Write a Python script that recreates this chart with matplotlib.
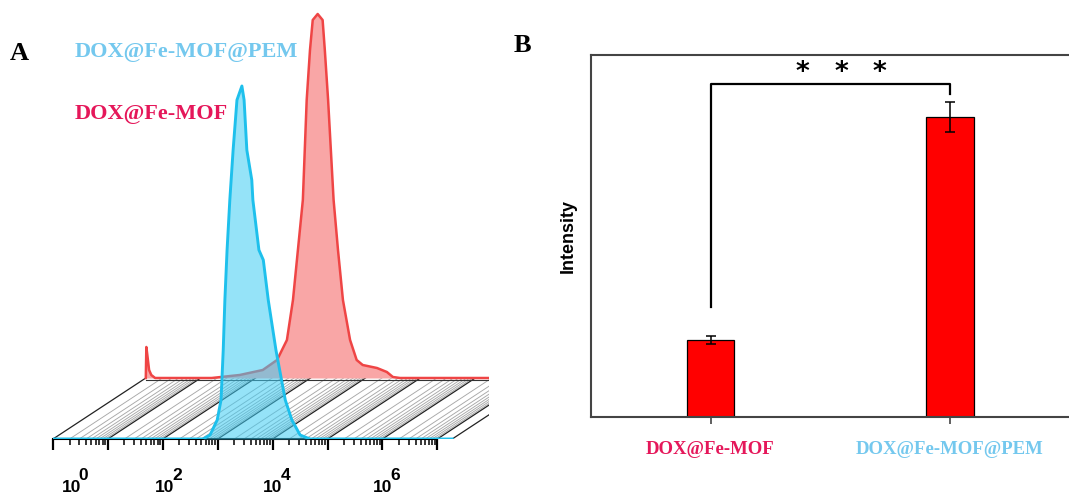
import numpy as np
from matplotlib import pyplot as plt

# ---- panel A : flow cytometry histograms (x = log10 intensity) ----
# DOX@Fe-MOF@PEM, front layer
azul_x = [0.0, 2.60, 2.73, 2.86, 2.99, 3.06, 3.10, 3.13, 3.17, 3.22, 3.28, 3.35, 3.44,
          3.48, 3.53, 3.62, 3.64, 3.75, 3.83, 3.92, 4.06, 4.23, 4.35, 4.50, 4.68, 7.27]
azul_y = [0, 0, 0, 4, 19, 39, 89, 139, 189, 239, 289, 339, 353,
          339, 289, 259, 239, 189, 179, 139, 89, 39, 19, 4, 0, 0]

# DOX@Fe-MOF, back layer (own axis, drawn shifted)
verm_x = [0.0, 0.01, 0.03, 0.06, 0.10, 0.17, 1.20, 1.71, 2.13, 2.39, 2.57, 2.68, 2.77,
          2.86, 2.93, 2.99, 3.04, 3.13, 3.22, 3.26, 3.32, 3.42, 3.50, 3.59, 3.72,
          3.84, 3.95, 4.21, 4.39, 4.50, 4.63, 7.27]
verm_y = [0, 31, 22, 8, 3, 0, 0, 3, 8, 18, 38, 78, 128,
          178, 278, 328, 358, 364, 358, 328, 278, 178, 128, 78, 38,
          18, 13, 10, 6, 1, 0, 0]

decadas = [0, 1, 2, 3, 4, 5, 6, 7]
rotulos_dec = ["0", "2", "4", "6"]
pos_rotulos = [0.16, 1.86, 3.83, 5.83]

# ---- panel B : mean intensity ----
grupos = ["DOX@Fe-MOF", "DOX@Fe-MOF@PEM"]
intensidade = [21.3, 82.9]
erro = [1.0, 4.1]
cores_grupo = ["#E5175A", "#74C8EE"]

AZUL = "#1EC0EC"
VERM = "#EF4545"
dx, dy = 1.69, 61  # perspective shift of the back histogram


def painel_a(fig):
  ax = fig.add_axes([53 / 1069, 58 / 497, 436 / 1069, 439 / 497])
  ax.set_xlim(0, 7.94)
  ax.set_ylim(0, 439)
  for s in ["top", "right", "left"]:
    ax.spines[s].set_visible(False)
  ax.spines["bottom"].set_bounds(0, 7.0)
  ax.spines["bottom"].set_linewidth(1.5)

  # floor hatch
  fim = azul_x[-1]
  for d in range(8):
    for k in range(1, 10):
      p = d + np.log10(k)
      if p > fim:
        continue
      if k == 1:
        ax.plot([p, p + dx], [0, dy], color="#222222", lw=0.9, zorder=1)
      else:
        ax.plot([p, p + dx], [0, dy], color="#a8a8a8", lw=0.65, zorder=1)
  ax.plot([fim, fim + dx], [0, dy], color="#222222", lw=0.9, zorder=1)
  ax.plot([dx, fim + dx], [dy - 1.5, dy - 1.5], color="#333333", lw=0.8, zorder=1)

  vx = np.array(verm_x) + dx
  vy = np.array(verm_y) + dy
  ax.fill_between(vx, dy, vy, color="#F9A6A6", lw=0, zorder=2)
  ax.plot(vx, vy, color=VERM, lw=1.8, zorder=3)

  ax.fill_between(azul_x, 0, azul_y, color="#3FCCF3", alpha=0.55, lw=0, zorder=4)
  ax.plot(azul_x, azul_y, color=AZUL, lw=2.1, zorder=5)

  ax.set_xticks(decadas)
  ax.set_xticks([d + np.log10(k) for d in range(7) for k in range(2, 10)], minor=True)
  ax.set_xticklabels([])
  ax.set_yticks([])
  ax.tick_params(axis="x", which="major", length=8, width=1.6, direction="out")
  ax.tick_params(axis="x", which="minor", length=4.5, width=1.1, direction="out")

  tr = ax.get_xaxis_transform()
  for r, p in zip(rotulos_dec, pos_rotulos):
    ax.text(p, -0.121, "10", transform=tr, fontsize=12.5, fontweight="bold",
            family="Liberation Sans", va="baseline", ha="left")
    ax.text(p + 0.31, -0.094, r, transform=tr, fontsize=12.5, fontweight="bold",
            family="Liberation Sans", va="baseline", ha="left")

  ax.text(0.40, 387, "DOX@Fe-MOF@PEM", color="#74C8EE", fontsize=16,
          fontweight="bold", family="Liberation Serif", va="center", ha="left")
  ax.text(0.40, 325, "DOX@Fe-MOF", color="#E5175A", fontsize=16,
          fontweight="bold", family="Liberation Serif", va="center", ha="left")


def painel_b(fig):
  ax = fig.add_axes([591 / 1069, 80 / 497, 483 / 1069, 362 / 497])
  xs = [i for i, _ in enumerate(grupos)]
  ax.bar(xs, intensidade, 0.2, color="#FF0000", edgecolor="black", linewidth=0.9,
         yerr=erro, capsize=3.5, error_kw={"elinewidth": 1.1, "capthick": 1.1})
  ax.set_xlim(-0.5, 1.52)
  ax.set_ylim(0, 100)
  ax.set_yticks([])
  ax.set_xticks(xs)
  ax.set_xticklabels(grupos, fontsize=13.5, fontweight="bold", family="Liberation Serif")
  for lab, c in zip(ax.get_xticklabels(), cores_grupo):
    lab.set_color(c)
  ax.tick_params(axis="x", length=5, width=1.2, color="#444444", pad=12)
  for s in ax.spines.values():
    s.set_color("#444444")
    s.set_linewidth(1.5)
  ax.set_ylabel("Intensity", fontsize=13, fontweight="bold",
                family="Liberation Sans", labelpad=10)

  # significance bracket
  ax.plot([0, 0, 1, 1], [30.4, 92.0, 92.0, 89.3], color="black", lw=1.6)
  for sx in [0.385, 0.548, 0.707]:
    ax.text(sx, 95.0, "*", fontsize=19, fontweight="bold", ha="center",
            va="center", family="DejaVu Sans")


def main():
  fig = plt.figure(figsize=(10.69, 4.97), dpi=100)
  painel_a(fig)
  painel_b(fig)
  fig.text(10 / 1069, 1 - 54 / 497, "A", fontsize=19, fontweight="bold",
           family="Liberation Serif", va="center", ha="left")
  fig.text(514 / 1069, 1 - 46 / 497, "B", fontsize=19, fontweight="bold",
           family="Liberation Serif", va="center", ha="left")
  fig.savefig("out.png", dpi=100)


main()
